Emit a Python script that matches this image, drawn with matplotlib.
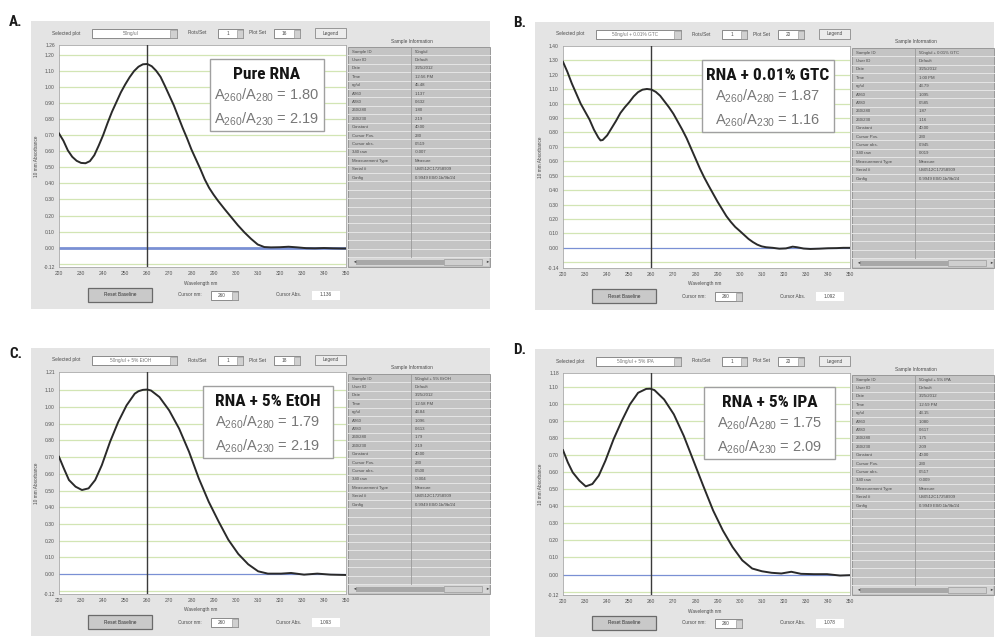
import numpy as np
import matplotlib.pyplot as plt
from matplotlib.patches import Rectangle
from matplotlib import font_manager

W, H = 997, 637
plt.rcParams['mathtext.fontset'] = 'custom'
plt.rcParams['mathtext.rm'] = 'Liberation Sans'
plt.rcParams['mathtext.it'] = 'Liberation Sans:italic'
plt.rcParams['font.family'] = ['Liberation Sans', 'DejaVu Sans']

# pick a condensed bold face for the headline text if one is installed
installed = {f.name for f in font_manager.fontManager.ttflist}
narrow, narrow_stretch, title_size = 'Liberation Sans', 'normal', 10.5
for cand in ['Liberation Sans Narrow', 'DejaVu Sans Condensed', 'Roboto Condensed']:
    if cand in installed:
        narrow, narrow_stretch, title_size = cand, 'condensed', 12.5
        break
else:
    if any(f.name == 'DejaVu Sans' and f.stretch == 'condensed'
           for f in font_manager.fontManager.ttflist):
        narrow, narrow_stretch, title_size = 'DejaVu Sans', 'condensed', 11.5

# --- spectra (wavelength nm, 10 mm absorbance) ---
wl_a = [220, 222, 224, 226, 228, 230, 232, 234, 236, 238, 240, 242, 244, 246, 248,
        250, 252, 254, 256, 258, 260, 262, 264, 266, 268, 270, 272, 274, 276, 278,
        280, 282, 284, 286, 288, 290, 292, 295, 298, 301, 304, 307, 310, 313, 316,
        320, 324, 328, 332, 336, 340, 344, 348, 350]
abs_a = [0.71, 0.665, 0.605, 0.565, 0.540, 0.527, 0.525, 0.538, 0.575, 0.635, 0.700,
         0.775, 0.845, 0.905, 0.965, 1.015, 1.060, 1.098, 1.125, 1.140, 1.142, 1.128,
         1.100, 1.062, 1.005, 0.945, 0.885, 0.815, 0.745, 0.680, 0.610, 0.550, 0.490,
         0.425, 0.372, 0.330, 0.292, 0.240, 0.190, 0.140, 0.095, 0.055, 0.020, 0.004,
         0.002, 0.003, 0.006, 0.002, -0.003, -0.004, -0.002, -0.004, -0.005, -0.005]

wl_b = [220, 222, 224, 226, 228, 230, 232, 234, 236, 237, 238, 240, 242, 244, 246,
        248, 250, 252, 254, 256, 258, 260, 262, 264, 266, 268, 270, 272, 274, 276,
        278, 280, 282, 284, 286, 288, 290, 292, 294, 296, 298, 300, 302, 304, 306,
        308, 310, 312, 315, 318, 321, 324, 326, 329, 332, 336, 340, 344, 347, 350]
abs_b = [1.29, 1.22, 1.14, 1.07, 1.00, 0.945, 0.89, 0.82, 0.765, 0.745, 0.748, 0.78,
         0.83, 0.88, 0.935, 0.975, 1.01, 1.05, 1.08, 1.097, 1.102, 1.098, 1.082, 1.055,
         1.015, 0.975, 0.93, 0.875, 0.82, 0.76, 0.69, 0.62, 0.55, 0.487, 0.43, 0.375,
         0.32, 0.27, 0.22, 0.18, 0.145, 0.118, 0.09, 0.062, 0.04, 0.022, 0.01, 0.004,
         0.0, -0.006, -0.004, 0.008, 0.004, -0.005, -0.008, -0.006, -0.003, -0.002,
         0.0, 0.0]

wl_c = [220, 222.2, 224.5, 227.5, 230.4, 233.4, 236.4, 239.4, 243.1, 246.8, 250.6,
        254.3, 256, 258, 260, 261.7, 265.5, 269.9, 274.4, 278.9, 283.3, 287.8, 292.3,
        296.7, 301.2, 305.7, 310.2, 314.6, 320.6, 325.1, 331, 337, 343, 349.7]
abs_c = [0.702, 0.632, 0.563, 0.523, 0.503, 0.513, 0.563, 0.652, 0.791, 0.91, 1.01,
         1.08, 1.095, 1.103, 1.105, 1.099, 1.06, 0.98, 0.871, 0.732, 0.573, 0.433,
         0.314, 0.205, 0.12, 0.058, 0.016, 0.002, 0.002, 0.006, -0.004, 0.002, -0.004,
         -0.006]

wl_d = [220, 222.2, 224.4, 227.4, 230.3, 233.3, 236.2, 239.2, 242.9, 246.6, 250.3,
        254, 257.7, 259.5, 261.4, 265.8, 270.2, 274.7, 279.1, 283.5, 288, 292.4, 296.8,
        301.2, 305.7, 310.1, 314.5, 318.9, 323.4, 327.8, 333.7, 339.6, 345.5, 349.7]
abs_d = [0.728, 0.656, 0.598, 0.55, 0.516, 0.53, 0.579, 0.666, 0.792, 0.899, 0.996,
         1.064, 1.087, 1.088, 1.08, 1.025, 0.938, 0.812, 0.666, 0.52, 0.375, 0.258,
         0.161, 0.083, 0.035, 0.019, 0.01, 0.006, 0.016, 0.004, 0.002, 0.002, -0.006,
         -0.004]

titles = ['Pure RNA', 'RNA + 0.01% GTC', 'RNA + 5% EtOH', 'RNA + 5% IPA']
letters = ['A.', 'B.', 'C.', 'D.']
ratio_280 = ['1.80', '1.87', '1.79', '1.75']
ratio_230 = ['2.19', '1.16', '2.19', '2.09']
y_top = [1.26, 1.40, 1.21, 1.18]
y_bottom = [-0.12, -0.14, -0.12, -0.12]
cursor_nm = 260
cursor_abs = ['1.136', '1.092', '1.093', '1.078']
plot_set = ['16', '20', '18', '20']
sample_ids = ['50ng/ul', '50ng/ul + 0.01% GTC', '50ng/ul + 5% EtOH', '50ng/ul + 5% IPA']

info_keys = ['Sample ID', 'User ID', 'Date', 'Time', 'ng/ul', 'A260', 'A280', '260/280',
             '260/230', 'Constant', 'Cursor Pos.', 'Cursor abs.', '340 raw',
             'Measurement Type', 'Serial #', 'Config']
info_a = ['50ng/ul', 'Default', '3/25/2012', '12:56 PM', '45.48', '1.137', '0.632', '1.80',
          '2.19', '40.00', '230', '0.519', '-0.007', 'Measure', 'US0512C17258909',
          '0.9949 E0/0.1b/9b/24']
info_b = ['50ng/ul + 0.01% GTC', 'Default', '3/25/2012', '1:00 PM', '43.79', '1.095',
          '0.585', '1.87', '1.16', '40.00', '230', '0.945', '0.019', 'Measure',
          'US0512C17258909', '0.9949 E0/0.1b/9b/24']
info_c = ['50ng/ul + 5% EtOH', 'Default', '3/25/2012', '12:58 PM', '43.84', '1.096',
          '0.613', '1.79', '2.19', '40.00', '230', '0.500', '-0.004', 'Measure',
          'US0512C17258909', '0.9949 E0/0.1b/9b/24']
info_d = ['50ng/ul + 5% IPA', 'Default', '3/25/2012', '12:59 PM', '43.15', '1.080',
          '0.617', '1.75', '2.09', '40.00', '230', '0.517', '-0.009', 'Measure',
          'US0512C17258909', '0.9949 E0/0.1b/9b/24']

spectra = [(wl_a, abs_a), (wl_b, abs_b), (wl_c, abs_c), (wl_d, abs_d)]
infos = [info_a, info_b, info_c, info_d]

# layout in pixels: window origin, panel label position, annotation box (axes fraction)
origins = [(31, 21), (535, 22), (31, 348), (535, 349)]
label_pos = [(9, 22), (513, 23), (9, 354), (513, 350)]
box_x = [(0.526, 0.923), (0.484, 0.944), (0.50, 0.955), (0.492, 0.949)]
base_lw = [2.0, 0.9, 0.9, 0.9]

GUI = '#4a4a4a'
fs = 3.4

fig = plt.figure(figsize=(W / 100, H / 100), dpi=100)
bg = fig.add_axes([0, 0, 1, 1])
bg.set_xlim(0, W)
bg.set_ylim(H, 0)
bg.axis('off')


def rect(x, y, w, h, fc, ec='none', lw=0.6, z=1):
    bg.add_patch(Rectangle((x, y), w, h, facecolor=fc, edgecolor=ec, linewidth=lw, zorder=z))


def txt(x, y, s, **kw):
    kw.setdefault('fontsize', fs)
    kw.setdefault('color', GUI)
    kw.setdefault('va', 'center')
    bg.text(x, y, s, zorder=5, **kw)


def spin(x, y, w, s):
    rect(x, y, w, 9, 'white', '#7a7a7a')
    rect(x + w - 6, y + 0.5, 5.5, 8, '#d0d0d0', '#8a8a8a', 0.4, z=2)
    txt(x + (w - 6) / 2, y + 4.5, s, ha='center')


for i in range(4):
    ox, oy = origins[i]
    wl, ab = spectra[i]

    # window
    rect(ox, oy, 459, 288, '#e4e4e4')
    bg.text(label_pos[i][0], label_pos[i][1], letters[i], fontsize=11, fontweight='bold',
            family=narrow, fontstretch=narrow_stretch, va='center', ha='left',
            color='#1a1a1a')

    # top controls
    txt(ox + 21, oy + 12, 'Selected plot')
    rect(ox + 61, oy + 8, 85, 9, 'white', '#7a7a7a')
    rect(ox + 139, oy + 8.5, 6.5, 8, '#d0d0d0', '#8a8a8a', 0.4, z=2)
    txt(ox + 100, oy + 12.5, sample_ids[i], ha='center', color='#777777')
    txt(ox + 157, oy + 12, 'Plots/Set')
    spin(ox + 187, oy + 8, 25, '1')
    txt(ox + 218, oy + 12, 'Plot Set')
    spin(ox + 243, oy + 8, 26, plot_set[i])
    rect(ox + 284, oy + 7, 31, 10, '#ececec', '#8a8a8a')
    txt(ox + 299.5, oy + 12, 'Legend', ha='center')

    # sample information table
    txt(ox + 381, oy + 20, 'Sample Information', ha='center')
    tx, ty, tw = ox + 317, oy + 26, 142
    rect(tx, ty, tw, 220, '#c4c4c4', '#8e8e8e')
    row_h = 8.4
    for r in range(25):
        bg.plot([tx, tx + tw], [ty + (r + 1) * row_h] * 2, color='#e6e6e6', lw=0.7, zorder=2)
    bg.plot([tx + 63, tx + 63], [ty, ty + 25 * row_h], color='#9a9a9a', lw=0.6, zorder=2)
    for r, (k, v) in enumerate(zip(info_keys, infos[i])):
        txt(tx + 4, ty + (r + 0.55) * row_h, k, fontsize=3.1)
        txt(tx + 67, ty + (r + 0.55) * row_h, v, fontsize=3.1)
    sy = ty + 25 * row_h + 1
    rect(tx + 1, sy, tw - 2, 8, '#d6d6d6', z=2)
    rect(tx + 8, sy + 1.5, 88, 5, '#a8a8a8', z=3)
    rect(tx + 96, sy + 1, 38, 6, '#cfcfcf', '#9a9a9a', 0.5, z=3)
    txt(tx + 4, sy + 4, '\u25c4', fontsize=3)
    txt(tx + tw - 5, sy + 4, '\u25ba', fontsize=3)

    # bottom controls
    txt(ox + 170, oy + 262, 'Wavelength nm', ha='center')
    txt(ox + 5, oy + 135, '10 mm Absorbance', rotation=90, ha='center')
    rect(ox + 57, oy + 267, 64, 14, '#c9c9c9', '#6a6a6a', 0.9)
    txt(ox + 89, oy + 274, 'Reset Baseline', ha='center', color='#333333')
    txt(ox + 147, oy + 274, 'Cursor nm:')
    spin(ox + 180, oy + 270, 27, str(cursor_nm))
    txt(ox + 245, oy + 274, 'Cursor Abs.')
    rect(ox + 281, oy + 269.5, 28, 9, 'white')
    txt(ox + 295, oy + 274, cursor_abs[i], ha='center')

    # spectrum plot
    px, py, pw, ph = ox + 28, oy + 24, 287, 222
    ax = fig.add_axes([px / W, 1 - (py + ph) / H, pw / W, ph / H])
    ax.set_xlim(220, 350)
    ax.set_ylim(y_bottom[i], y_top[i])
    grid_vals = [g for g in np.round(np.arange(-0.1, y_top[i], 0.1), 2)
                 if y_top[i] - g > 0.03]
    for g in grid_vals:
        if g != 0:
            ax.axhline(g, color='#d2e5b4', lw=0.9, zorder=1)
    ax.axhline(0, color='#7a90d4', lw=base_lw[i], zorder=2)
    ax.axvline(cursor_nm, color='#3a3a3a', lw=1.0, zorder=3)
    ax.plot(wl, ab, color='#2a2a2a', lw=1.4, zorder=4)

    ticks = [y_bottom[i]] + [g for g in grid_vals if g >= 0] + [y_top[i]]
    ax.set_yticks(ticks)
    ax.set_yticklabels(['%.2f' % t for t in ticks])
    ax.set_xticks(np.arange(220, 351, 10))
    ax.tick_params(length=0, labelsize=3.6, labelcolor='#555555', pad=3)
    for s in ax.spines.values():
        s.set_color('#a8a8a8')
        s.set_linewidth(0.6)

    # annotation box
    x0, x1 = box_x[i]
    ax.add_patch(Rectangle((x0, 0.612), x1 - x0, 0.325, transform=ax.transAxes,
                           facecolor='white', edgecolor='#a0a0a0', lw=1.0, zorder=6))
    xc = (x0 + x1) / 2
    ax.text(xc, 0.865, titles[i], transform=ax.transAxes, ha='center', va='center',
            fontsize=title_size, fontweight='bold', color='#151515',
            family=narrow, fontstretch=narrow_stretch, zorder=7)
    ax.text(xc, 0.775, r'A$_{260}$/A$_{280}$ = ' + ratio_280[i], transform=ax.transAxes,
            ha='center', va='center', fontsize=10.5, color='#777777', zorder=7)
    ax.text(xc, 0.665, r'A$_{260}$/A$_{230}$ = ' + ratio_230[i], transform=ax.transAxes,
            ha='center', va='center', fontsize=10.5, color='#777777', zorder=7)

fig.savefig('out.png', dpi=100)
